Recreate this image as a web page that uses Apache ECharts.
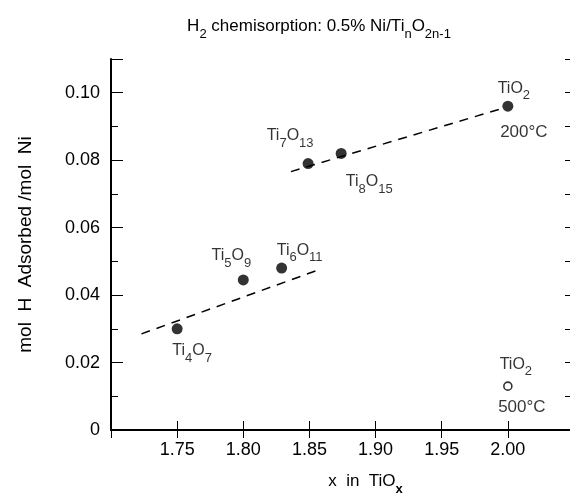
<!DOCTYPE html>
<html>
<head>
<meta charset="utf-8">
<script src="https://cdn.jsdelivr.net/npm/echarts@6/dist/echarts.min.js"></script>
<style>
html,body{margin:0;padding:0;background:#fff;}
#main{width:570px;height:493px;}
</style>
</head>
<body>
<div id="main"></div>
<script>
// ---- data ----
const pointNames = ['Ti4O7', 'Ti5O9', 'Ti6O11', 'Ti7O13', 'Ti8O15', 'TiO2 200°C'];
const pointX = [1.75, 1.80, 1.829, 1.849, 1.874, 2.00];
const pointY = [0.030, 0.0445, 0.048, 0.079, 0.082, 0.096];
const pointLabels = [
  '{n|Ti}{s|4}{n|O}{s|7}',
  '{n|Ti}{s|5}{n|O}{s|9}',
  '{n|Ti}{s|6}{n|O}{s|11}',
  '{n|Ti}{s|7}{n|O}{s|13}',
  '{n|Ti}{s|8}{n|O}{s|15}',
  '{n|TiO}{s|2}'
];
const openX = [2.00];
const openY = [0.013];
const openLabels = ['{n|TiO}{s|2}'];
const tempX = [2.00, 2.00];
const tempY = [0.096, 0.013];
const tempLabels = ['200°C', '500°C'];
const lowerLineX = [1.723, 1.857];
const lowerLineY = [0.0285, 0.0475];
const upperLineX = [1.836, 1.997];
const upperLineY = [0.0766, 0.0955];
const xTicks = { min: 1.70, max: 2.05, step: 0.05 };
const yTicks = { min: 0, max: 0.11, step: 0.02 };

// ---- layout (kept separate from data) ----
const pointLabelOffsets = [[15, 22], [-12, -24], [18, -18], [-18, -28], [28, 28], [6, -18]];
const openLabelOffsets = [[8, -22]];
const tempLabelOffsets = [[16, 26], [14, 21]];

const FONT = 'Liberation Sans';
const rich = {
  n: { fontSize: 16, fontFamily: FONT, color: '#000', lineHeight: 22 },
  s: { fontSize: 13, fontFamily: FONT, color: '#000', verticalAlign: 'bottom', padding: [0, 0, -3, 0] }
};

function zip(xs, ys) { return xs.map((x, i) => [x, ys[i]]); }

const chart = echarts.init(document.getElementById('main'), null, { renderer: 'canvas' });

const axisLine = { show: true, lineStyle: { color: '#000', width: 2 } };

const option = {
  animation: false,
  backgroundColor: '#fff',
  title: {
    text: '{n|H}{s|2}{n| chemisorption: 0.5% Ni/Ti}{s|n}{n|O}{s|2n-1}',
    left: 314,
    top: 10,
    textAlign: 'center',
    textStyle: {
      fontWeight: 'normal',
      rich: {
        n: { fontSize: 17, fontFamily: FONT, color: '#000', fontWeight: 'normal', lineHeight: 22 },
        s: { fontSize: 13, fontFamily: FONT, color: '#000', fontWeight: 'normal', verticalAlign: 'bottom', padding: [0, 0, -4, 0] }
      }
    }
  },
  grid: { left: 111, right: -4, top: 59, bottom: 63, containLabel: false, outerBoundsMode: 'none' },
  xAxis: [
    {
      type: 'value', position: 'bottom',
      min: xTicks.min, max: xTicks.max, interval: xTicks.step,
      name: '{n|x  in  TiO}{s|x}',
      nameLocation: 'middle', nameGap: 40,
      nameTextStyle: {
        padding: [0, 0, 0, 46],
        rich: {
          n: { fontSize: 17, fontFamily: FONT, color: '#000', lineHeight: 22 },
          s: { fontSize: 13, fontFamily: FONT, color: '#000', fontWeight: 'bold', verticalAlign: 'bottom', padding: [0, 0, -4, 0] }
        }
      },
      axisLine: axisLine,
      axisTick: { show: true, inside: true, length: 9, lineStyle: { color: '#000', width: 1 } },
      axisLabel: {
        fontSize: 18, fontFamily: FONT, color: '#000', margin: 11,
        formatter: v => (v >= 1.745 && v <= 2.005) ? v.toFixed(2) : ''
      },
      splitLine: { show: false }
    },
    {
      type: 'value', position: 'top',
      min: xTicks.min, max: xTicks.max, interval: xTicks.step,
      axisLine: axisLine,
      axisTick: { show: true, inside: true, length: 8, lineStyle: { color: '#000', width: 1 } },
      axisLabel: { show: false },
      splitLine: { show: false }
    }
  ],
  yAxis: [
    {
      type: 'value', position: 'left',
      min: yTicks.min, max: yTicks.max, interval: yTicks.step,
      name: 'mol  H  Adsorbed /mol  Ni',
      nameLocation: 'middle', nameGap: 76, nameRotate: 90,
      nameTextStyle: { fontSize: 19, fontFamily: FONT, color: '#000' },
      axisLine: axisLine,
      axisTick: { show: true, inside: true, length: 12, lineStyle: { color: '#000', width: 1 } },
      minorTick: { show: true, splitNumber: 2, length: 7, lineStyle: { color: '#000', width: 1 } },
      axisLabel: {
        fontSize: 18, fontFamily: FONT, color: '#000', margin: 11,
        formatter: v => v === 0 ? '0' : (v > 0.105 ? '' : v.toFixed(2))
      },
      splitLine: { show: false }
    },
    {
      type: 'value', position: 'right',
      min: yTicks.min, max: yTicks.max, interval: 0.01,
      axisLine: axisLine,
      axisTick: { show: true, inside: true, length: 9, lineStyle: { color: '#000', width: 1 } },
      axisLabel: { show: false },
      splitLine: { show: false }
    }
  ],
  series: [
    {
      type: 'line', data: zip(lowerLineX, lowerLineY), symbol: 'none',
      lineStyle: { color: '#000', width: 1.5, type: [9, 7] }, silent: true
    },
    {
      type: 'line', data: zip(upperLineX, upperLineY), symbol: 'none',
      lineStyle: { color: '#000', width: 1.5, type: [9, 7] }, silent: true
    },
    {
      type: 'scatter', symbol: 'circle', symbolSize: 11,
      itemStyle: { color: '#000' },
      data: pointX.map((x, i) => ({
        name: pointNames[i], value: [x, pointY[i]],
        label: {
          show: true, position: 'inside', offset: pointLabelOffsets[i],
          formatter: pointLabels[i], rich: rich
        }
      }))
    },
    {
      type: 'scatter', symbol: 'circle', symbolSize: 8,
      itemStyle: { color: '#fff', borderColor: '#000', borderWidth: 1.6 },
      data: openX.map((x, i) => ({
        name: 'TiO2 500°C', value: [x, openY[i]],
        label: {
          show: true, position: 'inside', offset: openLabelOffsets[i],
          formatter: openLabels[i], rich: rich
        }
      }))
    },
    {
      type: 'scatter', symbolSize: 0, silent: true,
      data: tempX.map((x, i) => ({
        value: [x, tempY[i]],
        label: {
          show: true, position: 'inside', offset: tempLabelOffsets[i],
          formatter: tempLabels[i], fontSize: 17, fontFamily: FONT, color: '#000'
        }
      }))
    }
  ]
};
chart.setOption(option);
</script>
</body>
</html>
